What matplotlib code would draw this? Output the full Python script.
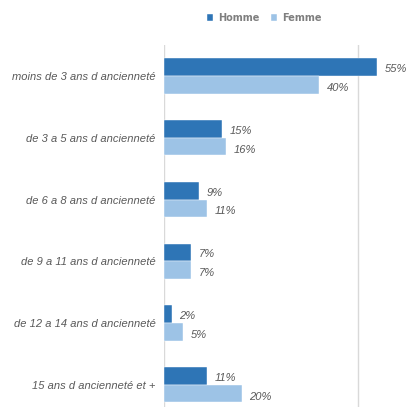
import matplotlib.pyplot as plt
import numpy as np

categories = ["moins de 3 ans d ancienneté", "de 3 a 5 ans d ancienneté",
              "de 6 a 8 ans d ancienneté", "de 9 a 11 ans d ancienneté",
              "de 12 a 14 ans d ancienneté", "15 ans d ancienneté et +"]
homme = [55, 15, 9, 7, 2, 11]
femme = [40, 16, 11, 7, 5, 20]

plt.rcParams['font.family'] = ['Liberation Sans', 'DejaVu Sans']

fig = plt.figure(figsize=(4.10, 4.07), dpi=100)
ax = fig.add_axes([0.40, 0.0, 0.568, 0.889])

y = np.arange(len(categories))
h = 0.285
dark = '#2E75B6'
light = '#9DC3E6'
ax.barh(y - h / 2, homme, height=h, color=dark, edgecolor='white', linewidth=0.3, label='Homme')
ax.barh(y + h / 2, femme, height=h, color=light, edgecolor='white', linewidth=0.3, label='Femme')

for i in range(len(categories)):
    ax.text(homme[i] + 2, y[i] - h / 2 + 0.03, f"{homme[i]}%", va='center', ha='left',
            fontsize=8, style='italic', color='#595959')
    ax.text(femme[i] + 2, y[i] + h / 2 + 0.05, f"{femme[i]}%", va='center', ha='left',
            fontsize=8, style='italic', color='#595959')

ax.set_xlim(0, 60)
ax.set_ylim(5.36, -0.5)
ax.set_yticks(y)
ax.set_yticklabels(categories, fontsize=8, style='italic', color='#595959')
ax.tick_params(axis='y', length=0, pad=6)
ax.set_xticks([])
for s in ax.spines.values():
    s.set_visible(False)
ax.axvline(0, color='#D9D9D9', linewidth=1, zorder=0)
ax.axvline(50, color='#D9D9D9', linewidth=1, zorder=0)

fig.legend(handles=ax.patches[:1] + ax.patches[6:7], labels=['Homme', 'Femme'],
           loc='center', bbox_to_anchor=(0.645, 0.956), ncol=2, frameon=False,
           prop={'family': 'DejaVu Sans', 'size': 7, 'weight': 'bold'},
           handlelength=0.6, handleheight=0.6, handletextpad=0.5,
           columnspacing=1.2, labelcolor='#7F7F7F')

fig.savefig('out.png', dpi=100)
